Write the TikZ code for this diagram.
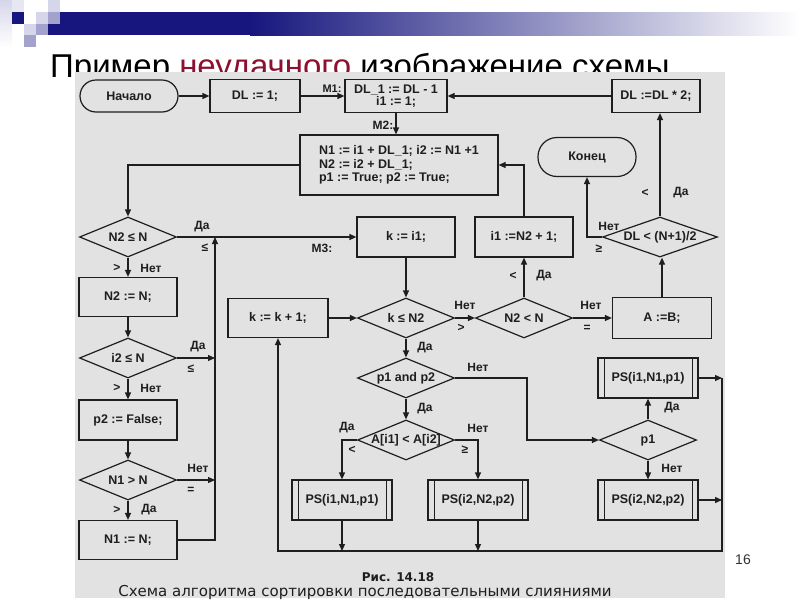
\documentclass[tikz,border=0pt]{standalone}
\usepackage{fontspec}
\setmainfont{Liberation Sans}
\newfontfamily\capfont{DejaVu Sans}
\usetikzlibrary{shapes.geometric,arrows.meta}
\definecolor{scan}{HTML}{E2E2E2}
\definecolor{ink}{HTML}{1E1E1E}
\definecolor{navy}{HTML}{16167E}
\definecolor{titlered}{HTML}{8E1030}
\definecolor{lav}{HTML}{A2A2CC}
\definecolor{pale}{HTML}{D6D6EA}
\definecolor{pnum}{HTML}{333333}
\newcommand\dtx[1]{\makebox[0pt]{#1}}
\begin{document}
\begin{tikzpicture}[x=1pt,y=-1pt,
  box/.style={draw=ink, line width=1.2pt, rectangle, minimum width=98pt, minimum height=39pt,
    inner sep=1pt, font=\bfseries\fontsize{12.5}{14}\selectfont, text=ink},
  term/.style={box, rounded corners=16pt, minimum height=32pt},
  dia/.style={draw=ink, line width=1.2pt, diamond, aspect=2.4, inner sep=0pt,
    minimum width=97pt, minimum height=40pt, font=\bfseries\fontsize{12.5}{14}\selectfont, text=ink},
  pbox/.style={box, minimum width=100pt, minimum height=40pt,
    path picture={\draw[ink,line width=1pt]
      ([xshift=6pt]path picture bounding box.north west) -- ([xshift=6pt]path picture bounding box.south west)
      ([xshift=-6pt]path picture bounding box.north east) -- ([xshift=-6pt]path picture bounding box.south east);}},
  arr/.style={draw=ink, line width=1.2pt, -{Triangle[length=7pt,width=6pt]}},
  lbl/.style={font=\bfseries\fontsize{12}{13}\selectfont, text=ink, inner sep=0pt}]
\useasboundingbox (0,0) rectangle (800,600);
\fill[white] (0,0) rectangle (800,600);
% slide decoration
\shade[top color=pale, bottom color=white] (0,0) rectangle (12,47);
\fill[navy] (12,12) rectangle (24,24);
\fill[pale!60] (12,0) rectangle (24,12);
\fill[pale] (24,24) rectangle (36,35);
\fill[lav] (24,35) rectangle (36,47);
\fill[pale] (36,12) rectangle (48,24);
\fill[lav] (36,24) rectangle (48,35);
\fill[pale] (48,0) rectangle (60,12);
\fill[lav] (48,12) rectangle (60,24);
\fill[navy] (48,24) rectangle (60,35);
\fill[navy] (60,12) rectangle (250,35);
\shade[left color=navy, right color=white] (250,12) rectangle (800,35);
% title
\node[anchor=base west, font=\fontsize{33}{35}\selectfont, inner sep=0pt] (title) at (50,77)
  {Пример \textcolor{titlered}{неудачного} изображение схемы};
% scanned area
\fill[scan] (75,72) rectangle (725,598);
% nodes
\node[term] (start) at (129,96) {Начало};
\node[box, minimum width=90pt, minimum height=33pt] (dl1) at (255,96) {DL := 1;};
\node[box, minimum width=102pt, minimum height=33pt, align=center, font=\bfseries\fontsize{12.5}{12}\selectfont] (dlm) at (396,96) {DL\_1 := DL - 1\\i1 := 1;};
\node[box, minimum width=88pt, minimum height=33pt] (dl2) at (656,96) {DL :=DL * 2;};
\node[box, minimum width=198pt, minimum height=60pt, align=left, font=\bfseries\fontsize{12.5}{13.5}\selectfont] (big) at (399,165)
  {N1 := i1 + DL\_1; i2 := N1 +1\\N2 := i2 + DL\_1;\\p1 := True; p2 := True;};
\node[term, minimum height=39pt, rounded corners=19pt] (endn) at (587,157) {Конец};
\node[dia] (d1) at (128,237) {\dtx{N2 ≤ N}};
\node[box, minimum height=40pt] (ki) at (406,237) {k := i1;};
\node[box, minimum height=40pt] (inc) at (524,237) {i1 :=N2 + 1;};
\node[dia, minimum width=115pt] (d6) at (660,237) {\dtx{DL < (N+1)/2}};
\node[box] (n2n) at (128,297) {N2 := N;};
\node[dia] (d2) at (128,358) {\dtx{i2 ≤ N}};
\node[box, minimum height=40pt] (p2f) at (128,420) {p2 := False;};
\node[dia] (d3) at (128,480) {\dtx{N1 > N}};
\node[box] (n1n) at (128,540) {N1 := N;};
\node[box, minimum width=100pt] (kk) at (278,318) {k := k + 1;};
\node[dia] (d4) at (406,318) {\dtx{k ≤ N2}};
\node[dia] (d5) at (524,318) {\dtx{N2 < N}};
\node[box, minimum width=99pt, minimum height=41pt] (ab) at (662,318) {A :=B;};
\node[dia] (d7) at (406,378) {\dtx{p1 and p2}};
\node[pbox] (ps3) at (648,378) {PS(i1,N1,p1)};
\node[dia] (d8) at (406,440) {\dtx{A[i1] < A[i2]}};
\node[dia] (d9) at (648,440) {\dtx{p1}};
\node[pbox] (ps1) at (342,500) {PS(i1,N1,p1)};
\node[pbox] (ps2) at (478,500) {PS(i2,N2,p2)};
\node[pbox] (ps4) at (648,500) {PS(i2,N2,p2)};
% helper coordinates
\coordinate (vt) at (215,237);
\coordinate (vb) at (215,540);
\coordinate (jn) at (527,378);
\coordinate (rtop) at (722,378);
\coordinate (rbot) at (722,551);
% connectors
\draw[arr] (start) -- (dl1);
\draw[arr] (dl1) -- (dlm);
\draw[arr] (dl2) -- (dlm);
\draw[arr] (dlm.south) -- (dlm.south |- big.north);
\draw[arr] (big.west) -| (d1.north);
\draw[arr] (d1.east) -- (ki.west);
\draw[arr] (d1.south) -- (n2n.north);
\draw[arr] (n2n.south) -- (d2.north);
\draw[arr] (d2.east) -- (d2.east -| vt);
\draw[arr] (d2.south) -- (p2f.north);
\draw[arr] (p2f.south) -- (d3.north);
\draw[arr] (d3.east) -- (d3.east -| vt);
\draw[arr] (d3.south) -- (n1n.north);
\draw[arr] (n1n.east) -- (vb) -- (vt);
\draw[arr] (ki.south) -- (d4.north);
\draw[arr] (kk.east) -- (d4.west);
\draw[arr] (d4.east) -- (d5.west);
\draw[arr] (d5.north) -- (inc.south);
\draw[arr] (inc.north) |- (big.east);
\draw[arr] (d5.east) -- (ab.west);
\draw[arr] (ab.north) -- (ab.north |- d6.south);
\draw[arr] (d6.north) -- (d6.north |- dl2.south);
\draw[arr] (d6.west) -| (endn.south);
\draw[arr] (d4.south) -- (d7.north);
\draw[arr] (d7.south) -- (d8.north);
\draw[arr] (d7.east) -- (jn) |- (d9.west);
\draw[arr] (d8.west) -| (ps1.north);
\draw[arr] (d8.east) -| (ps2.north);
\draw[arr] (d9.north) -- (ps3.south);
\draw[arr] (d9.south) -- (ps4.north);
\draw[arr] (ps3.east) -- (rtop);
\draw[arr] (ps4.east) -- (ps4.east -| rbot);
\draw[arr] (rtop) -- (rbot) -- (kk.south |- rbot) -- (kk.south);
\draw[arr] (ps1.south) -- (ps1.south |- rbot);
\draw[arr] (ps2.south) -- (ps2.south |- rbot);
% labels
\node[lbl, font=\bfseries\fontsize{11}{12}\selectfont] (m1) at (332,89) {M1:};
\node[lbl] (m2) at (383,125) {M2:};
\node[lbl] (m3) at (322,248) {M3:};
\node[lbl] (a1) at (202,227) {Да};
\node[lbl] (a2) at (205,248) {≤};
\node[lbl] (a3) at (117,268) {>};
\node[lbl] (a4) at (151,268) {Нет};
\node[lbl] (b1) at (198,347) {Да};
\node[lbl] (b2) at (191,369) {≤};
\node[lbl] (b3) at (117,388) {>};
\node[lbl] (b4) at (151,388) {Нет};
\node[lbl] (c1) at (198,468) {Нет};
\node[lbl] (c2) at (191,490) {=};
\node[lbl] (c3) at (117,510) {>};
\node[lbl] (c4) at (149,510) {Да};
\node[lbl] (e1) at (465,305) {Нет};
\node[lbl] (e2) at (461,328) {>};
\node[lbl] (f1) at (513,276) {<};
\node[lbl] (f2) at (544,276) {Да};
\node[lbl] (g1) at (591,305) {Нет};
\node[lbl] (g2) at (587,328) {=};
\node[lbl] (h1) at (645,193) {<};
\node[lbl] (h2) at (681,193) {Да};
\node[lbl] (h3) at (609,226) {Нет};
\node[lbl] (h4) at (599,249) {≥};
\node[lbl] (i1) at (425,348) {Да};
\node[lbl] (i2) at (478,367) {Нет};
\node[lbl] (i3) at (425,409) {Да};
\node[lbl] (j1) at (347,428) {Да};
\node[lbl] (j2) at (352,450) {<};
\node[lbl] (j3) at (478,428) {Нет};
\node[lbl] (j4) at (465,450) {≥};
\node[lbl] (k1) at (672,408) {Да};
\node[lbl] (k2) at (672,468) {Нет};
% caption
\node[font=\capfont\fontsize{12}{13}\selectfont\bfseries, text=ink, inner sep=0pt] (cap1) at (398,577) {Рис. 14.18};
\node[font=\capfont\fontsize{15}{16}\selectfont, text=ink, inner sep=0pt] (cap2) at (365,592) {Схема алгоритма сортировки последовательными слияниями};
\node[font=\fontsize{14}{16}\selectfont, text=pnum, inner sep=0pt] (pn) at (743,560) {16};
\end{tikzpicture}
\end{document}
